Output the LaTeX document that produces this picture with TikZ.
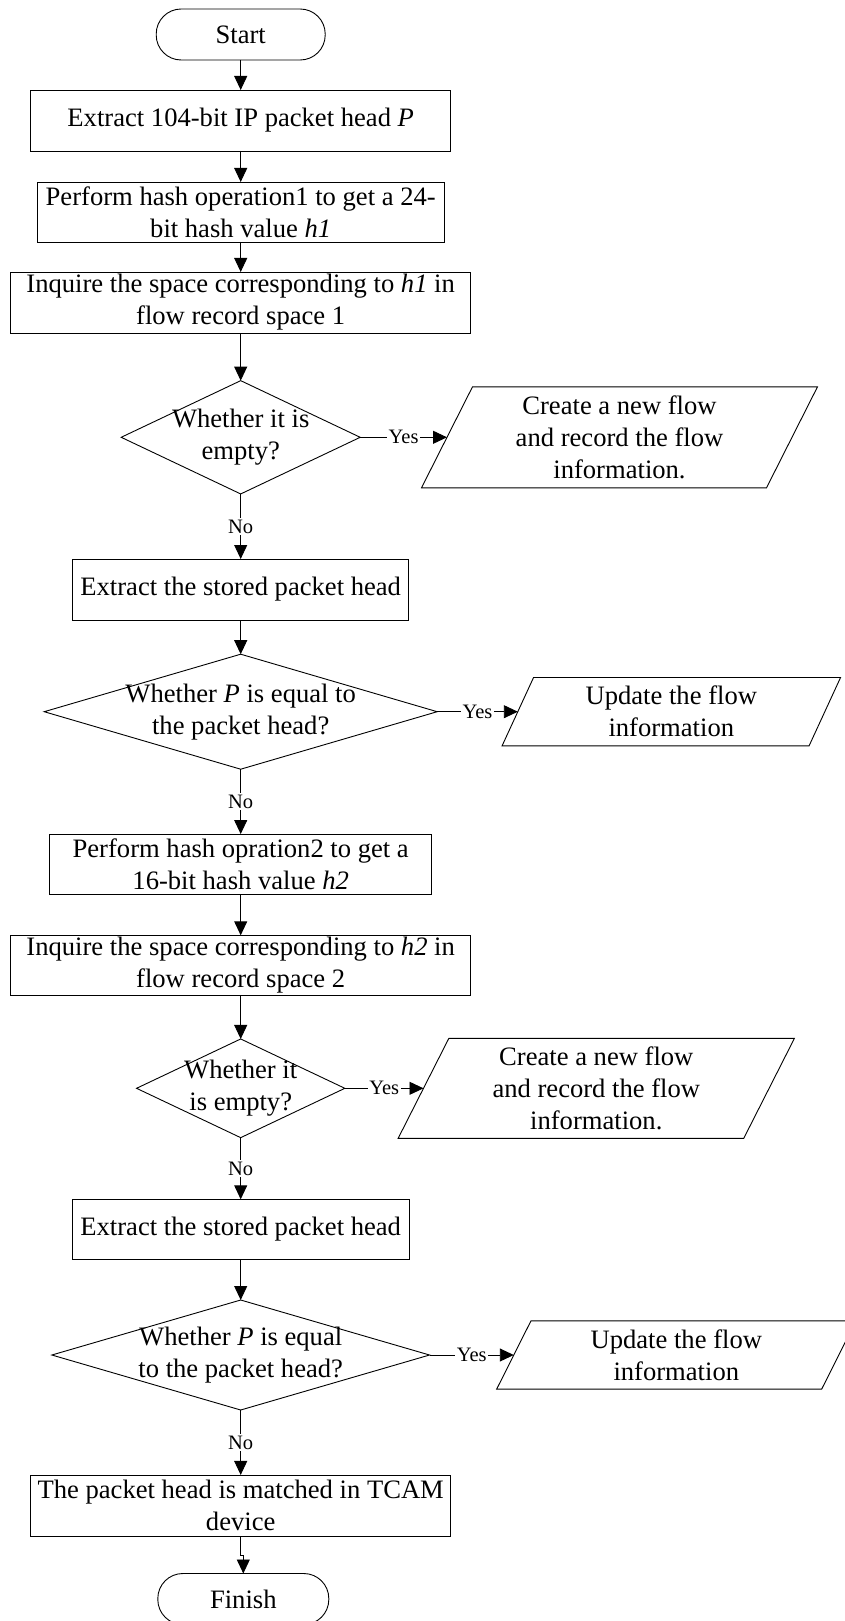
\documentclass[tikz,border=0pt]{standalone}
\usepackage{fontspec}
\setmainfont{Liberation Serif}
\usetikzlibrary{arrows.meta}
\begin{document}
\begin{tikzpicture}[x=1pt,y=-1pt,
  line width=0.9pt,
  every node/.style={inner sep=0pt, outer sep=0pt, align=center, font=\fontsize{26.6}{32}\selectfont},
  box/.style={draw, rectangle},
  term/.style={draw, rectangle, rounded corners=25pt},
  holder/.style={rectangle},
  lbl/.style={fill=white, inner sep=1.5pt, font=\fontsize{20.5}{24}\selectfont},
  arr/.style={-{Triangle[length=14pt,width=13pt]}},
]
\useasboundingbox (0,0) rectangle (845,1621);

\node[term, minimum width=169pt, minimum height=51pt] (start) at (240.7,34.5) {Start};
\node[box, minimum width=420pt, minimum height=61pt] (b1) at (240.7,120.5) {Extract 104-bit IP packet head \textit{P}};
\node[box, minimum width=407pt, minimum height=60pt] (b2) at (240.7,212) {Perform hash operation1 to get a 24-\\bit hash value \textit{h1}};
\node[box, minimum width=460pt, minimum height=61pt] (b3) at (240.7,302.5) {Inquire the space corresponding to \textit{h1} in\\flow record space 1};
\node[holder, minimum width=239pt, minimum height=113.3pt] (d1) at (240.7,437.3) {Whether it is\\empty?};
\node[holder, minimum width=345pt, minimum height=101pt] (p1) at (619.5,437.3) {Create a new flow\\and record the flow\\information.};
\node[box, minimum width=336pt, minimum height=61pt] (b4) at (240.7,589.5) {Extract the stored packet head};
\node[holder, minimum width=393pt, minimum height=115pt] (d2) at (240.7,711.7) {Whether \textit{P} is equal to\\the packet head?};
\node[holder, minimum width=307pt, minimum height=68.4pt] (p2) at (671.3,711.7) {Update the flow\\information};
\node[box, minimum width=382.4pt, minimum height=60.7pt] (b5) at (240.7,864.4) {Perform hash opration2 to get a\\16-bit hash value \textit{h2}};
\node[box, minimum width=460pt, minimum height=60.4pt] (b6) at (240.7,965.5) {Inquire the space corresponding to \textit{h2} in\\flow record space 2};
\node[holder, minimum width=208.3pt, minimum height=98.7pt] (d3) at (240.7,1088.3) {Whether it\\is empty?};
\node[holder, minimum width=345.6pt, minimum height=100pt] (p3) at (596.3,1088.3) {Create a new flow\\and record the flow\\information.};
\node[box, minimum width=337.3pt, minimum height=60.4pt] (b7) at (240.7,1229.5) {Extract the stored packet head};
\node[holder, minimum width=377.7pt, minimum height=110pt] (d4) at (240.7,1355) {Whether \textit{P} is equal\\to the packet head?};
\node[holder, minimum width=325pt, minimum height=68.3pt] (p4) at (676.3,1355) {Update the flow\\information};
\node[box, minimum width=420pt, minimum height=61.5pt] (b8) at (240.7,1505.7) {The packet head is matched in TCAM\\device};
\node[term, minimum width=171pt, minimum height=51pt] (fin) at (243.3,1599) {Finish};

\foreach \n in {d1,d2,d3,d4}
  \draw (\n.north) -- (\n.east) -- (\n.south) -- (\n.west) -- cycle;
\foreach \n/\s in {p1/25.5, p2/15.75, p3/25.35, p4/17.15}
  \draw ([xshift=-\s pt]\n.south west) -- ([xshift=-\s pt]\n.south east)
     -- ([xshift=\s pt]\n.north east) -- ([xshift=\s pt]\n.north west) -- cycle;

\draw[arr] (start.south) -- (b1.north);
\draw[arr] (b1.south) -- (b2.north);
\draw[arr] (b2.south) -- (b3.north);
\draw[arr] (b3.south) -- (d1.north);
\draw[arr] (d1.east) -- node[lbl] {Yes} (p1.west);
\draw[arr] (d1.south) -- node[lbl] {No} (b4.north);
\draw[arr] (b4.south) -- (d2.north);
\draw[arr] (d2.east) -- node[lbl] {Yes} (p2.west);
\draw[arr] (d2.south) -- node[lbl] {No} (b5.north);
\draw[arr] (b5.south) -- (b6.north);
\draw[arr] (b6.south) -- (d3.north);
\draw[arr] (d3.east) -- node[lbl] {Yes} (p3.west);
\draw[arr] (d3.south) -- node[lbl] {No} (b7.north);
\draw[arr] (b7.south) -- (d4.north);
\draw[arr] (d4.east) -- node[lbl] {Yes} (p4.west);
\draw[arr] (d4.south) -- node[lbl] {No} (b8.north);
\draw[arr] (b8.south) -- ++(0,19) -| (fin.north);
\end{tikzpicture}
\end{document}
